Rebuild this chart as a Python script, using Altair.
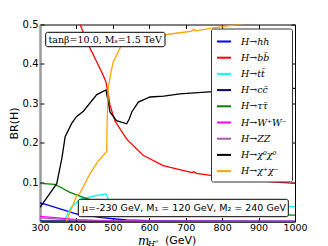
import altair as alt
import pandas as pd

# ---- data ----
series_names = ["H→hh", "H→bb̄", "H→tt̄", "H→cc̄", "H→ττ̄", "H→W⁺W⁻", "H→ZZ", "H→χ⁰χ⁰", "H→χ⁺χ⁻"]
series_colors = ["#0000ff", "#ff0000", "#00ffff", "#000080", "#008000", "#ff00ff", "#a855b5", "#000000", "#ffa500"]

hh_m = [300, 320, 355, 380, 401, 433, 469, 500, 538, 600, 700, 800, 900, 1000]
hh_br = [0.047, 0.042, 0.032, 0.025, 0.019, 0.015, 0.010, 0.007, 0.004, 0.002, 0.0012, 0.0008, 0.0005, 0.0003]

bb_m = [300, 350, 390, 410, 433, 469, 481, 492, 501, 506, 529, 540, 583, 638, 700, 718, 722, 730, 796, 896, 1000]
bb_br = [0.80, 0.68, 0.57, 0.50, 0.448, 0.380, 0.355, 0.296, 0.269, 0.255, 0.222, 0.207, 0.168, 0.142, 0.128, 0.124, 0.126, 0.122, 0.113, 0.103, 0.097]

tt_m = [365, 385, 410, 433, 456, 481, 492, 550, 700, 850, 1000]
tt_br = [0.0, 0.035, 0.057, 0.061, 0.066, 0.070, 0.049, 0.046, 0.042, 0.040, 0.038]

cc_m = [300, 500, 1000]
cc_br = [0.0015, 0.0008, 0.0005]

tautau_m = [300, 341, 360, 382, 428, 480, 550, 700, 850, 1000]
tautau_br = [0.097, 0.094, 0.085, 0.074, 0.058, 0.045, 0.035, 0.025, 0.019, 0.016]

ww_m = [300, 350, 400, 450, 500, 600, 800, 1000]
ww_br = [0.013, 0.009, 0.005, 0.003, 0.002, 0.001, 0.0005, 0.0003]

zz_m = [300, 350, 400, 450, 500, 600, 800, 1000]
zz_br = [0.009, 0.006, 0.004, 0.002, 0.0015, 0.0008, 0.0004, 0.0002]

n0_m = [300, 346, 360, 369, 387, 400, 419, 456, 481, 488, 492, 510, 538, 545, 552, 570, 602, 640, 684, 764, 1000]
n0_br = [0.036, 0.096, 0.160, 0.215, 0.249, 0.266, 0.280, 0.322, 0.334, 0.300, 0.278, 0.256, 0.248, 0.260, 0.278, 0.303, 0.316, 0.318, 0.324, 0.329, 0.338]

c_m = [372, 385, 401, 410, 437, 460, 483, 484, 487, 495, 501, 524, 560, 600, 643, 700, 716, 722, 727, 780, 849, 1000]
c_br = [0.0, 0.030, 0.066, 0.072, 0.121, 0.154, 0.177, 0.240, 0.337, 0.380, 0.405, 0.448, 0.463, 0.469, 0.474, 0.481, 0.483, 0.488, 0.484, 0.492, 0.501, 0.520]

x_ticks = [300, 400, 500, 600, 700, 800, 900, 1000]
y_ticks = [0.1, 0.2, 0.3, 0.4, 0.5]

all_m = [hh_m, bb_m, tt_m, cc_m, tautau_m, ww_m, zz_m, n0_m, c_m]
all_br = [hh_br, bb_br, tt_br, cc_br, tautau_br, ww_br, zz_br, n0_br, c_br]

rows = []
for name, ms, brs in zip(series_names, all_m, all_br):
    for i, (m, b) in enumerate(zip(ms, brs)):
        rows.append({"series": name, "m": m, "br": b, "order": i})
df = pd.DataFrame(rows)

W, H = 255, 197

xscale = alt.Scale(domain=[300, 1000], nice=False, zero=False)
yscale = alt.Scale(domain=[0, 0.5], nice=False, zero=False)

lines = alt.Chart(df).mark_line(clip=True, strokeWidth=1.3).encode(
    x=alt.X("m:Q", scale=xscale, axis=alt.Axis(values=x_ticks, format="d", title=None, ticks=False,
                                               labelFont="DejaVu Sans", labelFontSize=9.5,
                                               labelColor="black", domainColor="black",
                                               labelPadding=1, labelOverlap=False,
                                               labelFlush=False, grid=False)),
    y=alt.Y("br:Q", scale=yscale, axis=alt.Axis(values=y_ticks, format=".1f", title="BR(H)",
                                                titleFont="DejaVu Sans", titleFontSize=11,
                                                titleFontWeight="normal", titleColor="black",
                                                titlePadding=3, labelPadding=2,
                                                labelFont="DejaVu Sans", labelFontSize=10,
                                                labelColor="black", ticks=False,
                                                labelOverlap=False, labelFlush=False,
                                                domainColor="#9a9a9a", domainWidth=2.5,
                                                grid=False)),
    color=alt.Color("series:N", sort=series_names,
                    scale=alt.Scale(domain=series_names, range=series_colors),
                    legend=alt.Legend(orient="none", legendX=171, legendY=4, title=None,
                                      symbolType="stroke", symbolSize=196, symbolStrokeWidth=2,
                                      labelFont="DejaVu Serif", labelFontStyle="italic",
                                      labelFontSize=9.5, labelColor="black", labelOffset=9,
                                      rowPadding=3.2, padding=5, strokeColor="#333",
                                      fillColor="white", cornerRadius=2)),
    detail="series:N",
    order="order:Q",
)

ghost1 = alt.Chart(df).mark_point(opacity=0).encode(
    x=alt.X("m:Q", scale=xscale, axis=alt.Axis(orient="top", offset=-H, values=x_ticks, labels=False,
                                               domain=False, tickSize=4, tickColor="black",
                                               title=None, grid=False)),
    y=alt.Y("br:Q", scale=yscale, axis=alt.Axis(orient="left", offset=-W, values=y_ticks, labels=False,
                                                domain=False, tickSize=4, tickColor="black",
                                                title=None, grid=False)),
)
ghost2 = alt.Chart(df).mark_point(opacity=0).encode(
    x=alt.X("m:Q", scale=xscale, axis=alt.Axis(orient="bottom", offset=-H, values=x_ticks, labels=False,
                                               domain=False, tickSize=4, tickColor="black",
                                               title=None, grid=False)),
    y=alt.Y("br:Q", scale=yscale, axis=alt.Axis(orient="right", offset=-W, values=y_ticks, labels=False,
                                                domain=False, tickSize=4, tickColor="black",
                                                title=None, grid=False)),
)

one = pd.DataFrame({"a": [0]})
box1 = alt.Chart(one).mark_rect(fill="white", stroke="black", strokeWidth=1, cornerRadius=2).encode(
    x=alt.value(5.7), x2=alt.value(125), y=alt.value(7.8), y2=alt.value(22.2))
txt1 = alt.Chart(one).mark_text(align="left", baseline="middle", font="DejaVu Serif",
                                fontSize=9.5, color="black").encode(
    x=alt.value(8.5), y=alt.value(15.2), text=alt.value("tanβ=10.0, Mₛ=1.5 TeV"))
box2 = alt.Chart(one).mark_rect(fill="white", stroke="black", strokeWidth=1, cornerRadius=2).encode(
    x=alt.value(38.3), x2=alt.value(248.3), y=alt.value(174.8), y2=alt.value(192.2))
txt2 = alt.Chart(one).mark_text(align="left", baseline="middle", font="DejaVu Sans",
                                fontSize=9.5, color="black").encode(
    x=alt.value(42), y=alt.value(183.5), text=alt.value("μ=-230 GeV, M₁ = 120 GeV, M₂ = 240 GeV"))

xt1 = alt.Chart(one).mark_text(align="left", baseline="middle", font="DejaVu Serif", fontStyle="italic",
                               fontSize=12, color="black").encode(
    x=alt.value(98), y=alt.value(216), text=alt.value("m"))
xt2 = alt.Chart(one).mark_text(align="left", baseline="middle", font="DejaVu Serif", fontStyle="italic",
                               fontSize=8, color="black").encode(
    x=alt.value(108), y=alt.value(219), text=alt.value("H⁰"))
xt3 = alt.Chart(one).mark_text(align="left", baseline="middle", font="DejaVu Sans",
                               fontSize=11, color="black").encode(
    x=alt.value(125), y=alt.value(216), text=alt.value("(GeV)"))

chart = alt.layer(lines, ghost1, ghost2, box1, txt1, box2, txt2, xt1, xt2, xt3).resolve_axis(
    x="independent", y="independent"
).properties(
    width=W, height=H,
    autosize=alt.AutoSizeParams(type="none"),
    padding={"left": 32, "top": 16.5, "right": 20, "bottom": 26},
    background="white",
).configure_view(stroke="black", strokeWidth=1)

chart.save("out.html", embed_options={"renderer": "svg", "actions": False})
